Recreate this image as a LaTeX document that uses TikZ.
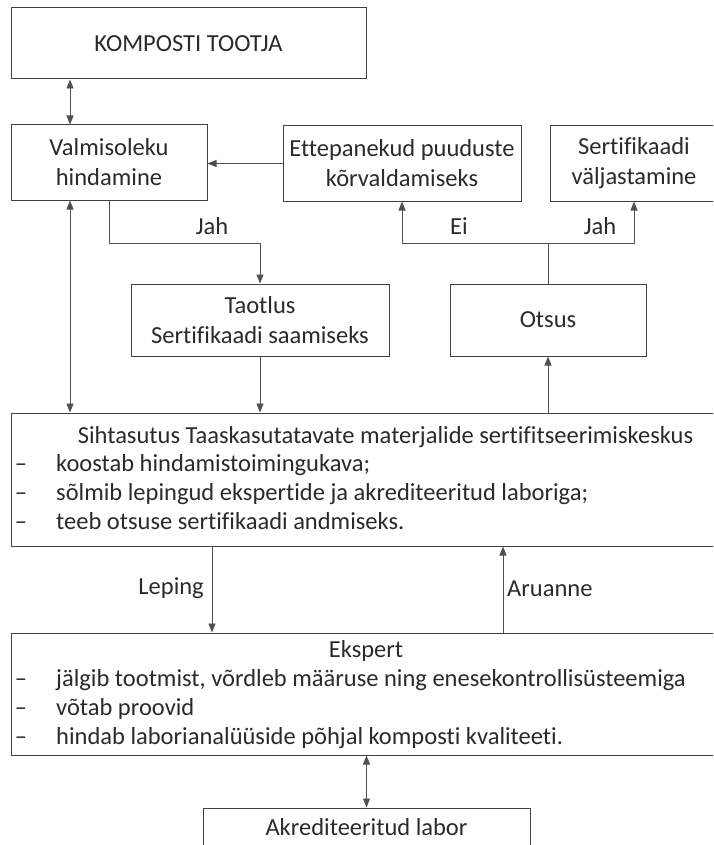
\documentclass[tikz,border=0pt]{standalone}
\usepackage{fontspec}
\setmainfont{Carlito}[Ligatures={NoCommon,NoContextual}]
\usetikzlibrary{arrows.meta}
\definecolor{boxline}{HTML}{404040}
\definecolor{conline}{HTML}{505050}
\definecolor{txt}{HTML}{2A2A2A}
\tikzset{
  box/.style={draw=boxline, line width=1pt, inner sep=0pt, align=center, text=txt,
    font=\fontsize{24.5}{30}\selectfont},
  lbl/.style={inner sep=0pt, text=txt, font=\fontsize{24.5}{30}\selectfont,
    text height=17pt, text depth=5pt},
  con/.style={draw=conline, line width=0.9pt, -{Triangle[length=9pt,width=7pt]}},
  dcon/.style={draw=conline, line width=0.9pt, {Triangle[length=9pt,width=7pt]}-{Triangle[length=9pt,width=7pt]}},
  plain/.style={draw=conline, line width=0.9pt}
}
\begin{document}
\begin{tikzpicture}[x=1pt,y=1pt]
\useasboundingbox (0,0) rectangle (713,-845);
\clip (0,0) rectangle (713,-845);

% boxes
\node[box, minimum width=355pt, minimum height=71pt] (KT) at (188.5,-43.5) {KOMPOSTI TOOTJA};
\node[box, minimum width=196pt, minimum height=75pt] (VH) at (109,-162.5) {Valmisoleku\\hindamine};
\node[box, minimum width=238pt, minimum height=75pt] (EP) at (402,-163.5) {Ettepanekud puuduste\\kõrvaldamiseks};
\node[box, minimum width=168pt, minimum height=75pt] (SV) at (634,-163.5) {Sertifikaadi\\väljastamine};
\node[box, minimum width=258pt, minimum height=72pt] (TS) at (260,-320) {Taotlus\\Sertifikaadi saamiseks};
\node[box, minimum width=196pt, minimum height=72pt] (OT) at (548,-320) {Otsus};
\node[box, minimum width=749pt, minimum height=133pt] (SH) at (385.5,-479.5) {};
\node[box, minimum width=710pt, minimum height=122pt] (EK) at (366,-694) {};
\node[box, minimum width=327pt, minimum height=76pt] (AL) at (366.5,-846) {};
\node[lbl] (ALt) at (366.5,-829) {Akrediteeritud labor};

% Sihtasutus text
\node[lbl] (SHt) at (385.5,-437) {Sihtasutus Taaskasutatavate materjalide sertifitseerimiskeskus};
\node[lbl] (SHd1) at (21,-465) {–};
\node[lbl] (SHd2) at (21,-494) {–};
\node[lbl] (SHd3) at (21,-523) {–};
\node[lbl, anchor=west] (SH1) at (56,-465) {koostab hindamistoimingukava;};
\node[lbl, anchor=west] (SH2) at (56,-494) {sõlmib lepingud ekspertide ja akrediteeritud laboriga;};
\node[lbl, anchor=west] (SH3) at (56,-523) {teeb otsuse sertifikaadi andmiseks.};

% Ekspert text
\node[lbl] (EKt) at (366,-651) {Ekspert};
\node[lbl] (EKd1) at (21,-680) {–};
\node[lbl] (EKd2) at (21,-709) {–};
\node[lbl] (EKd3) at (21,-738) {–};
\node[lbl, anchor=west] (EK1) at (56,-680) {jälgib tootmist, võrdleb määruse ning enesekontrollisüsteemiga};
\node[lbl, anchor=west] (EK2) at (56,-709) {võtab proovid};
\node[lbl, anchor=west] (EK3) at (56,-738) {hindab laborianalüüside põhjal komposti kvaliteeti.};

% helper coordinates
\coordinate (xa) at (70,0);
\coordinate (xl) at (212,0);
\coordinate (xr) at (503,0);
\coordinate (split) at (548,-243);
\coordinate (jy) at (109,-243);

% connectors
\draw[dcon] (KT.south -| xa) -- (VH.north -| xa);
\draw[dcon] (VH.south -| xa) -- (SH.north -| xa);
\draw[con] (EP.west) -- (VH.east |- EP.west);
\draw[con] (VH.south) -- (jy) -| (TS.north);
\draw[plain] (OT.north) -- (split);
\draw[con] (split) -| (EP.south);
\draw[con] (split) -| (SV.south);
\draw[con] (TS.south) -- (TS.south |- SH.north);
\draw[con] (SH.north -| OT.south) -- (OT.south);
\draw[con] (SH.south -| xl) -- (EK.north -| xl);
\draw[con] (EK.north -| xr) -- (SH.south -| xr);
\draw[dcon] (EK.south -| AL.north) -- (AL.north);

% labels
\node[lbl] (jah1) at (212,-228) {Jah};
\node[lbl] (ei) at (459,-228) {Ei};
\node[lbl] (jah2) at (600,-228) {Jah};
\node[lbl, anchor=east] (lep) at (204,-588) {Leping};
\node[lbl, anchor=west] (aru) at (507,-590) {Aruanne};
\end{tikzpicture}
\end{document}
